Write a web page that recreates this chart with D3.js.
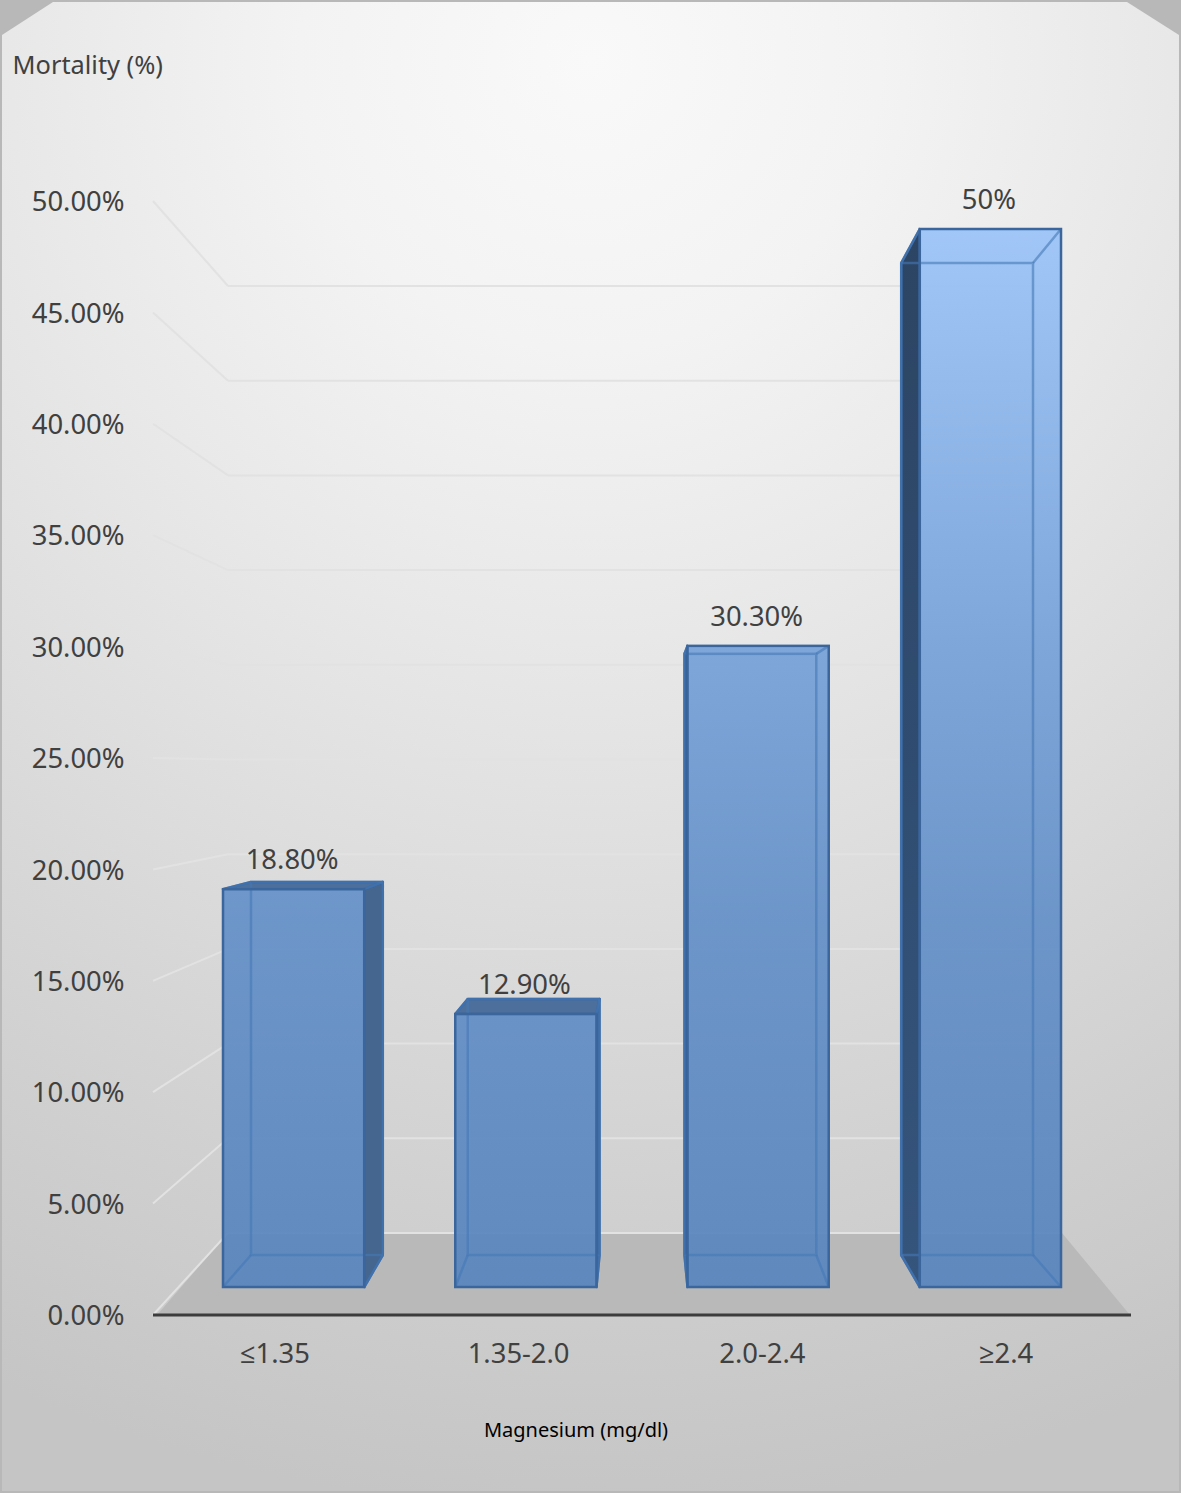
<!DOCTYPE html>
<html>
<head>
<meta charset="utf-8">
<script src="https://cdn.jsdelivr.net/npm/d3@7"></script>
<style>
	html, body { margin: 0; padding: 0; background: #b8b8b8; }
	svg { display: block; }
	text { font-family: "Noto Sans", "Open Sans", sans-serif; }
</style>
</head>
<body>
<div id="area"></div>
<script>
var categories = ["≤1.35", "1.35-2.0", "2.0-2.4", "≥2.4"];
var mortality = [18.8, 12.9, 30.3, 50];
var valueLabels = ["18.80%", "12.90%", "30.30%", "50%"];
var yTicks = [0, 5, 10, 15, 20, 25, 30, 35, 40, 45, 50];

var svgContainer = d3.select("#area").append("svg")
	.attr("width", 1181)
	.attr("height", 1493);

var defs = svgContainer.append("defs");

var panelGradient = defs.append("radialGradient")
	.attr("id", "panelFill")
	.attr("gradientUnits", "userSpaceOnUse")
	.attr("cx", 590).attr("cy", 60).attr("r", 1450);
panelGradient.selectAll("stop")
	.data([[0, "#f9f9f9"], [0.2, "#f3f3f3"], [0.4, "#e8e8e8"], [0.6, "#dcdcdc"], [0.8, "#d0d0d0"], [1, "#c5c5c5"]])
	.enter().append("stop")
	.attr("offset", function (d) { return d[0]; })
	.attr("stop-color", function (d) { return d[1]; });

var barGradient = defs.append("linearGradient")
	.attr("id", "barFill")
	.attr("gradientUnits", "userSpaceOnUse")
	.attr("x1", 0).attr("x2", 0).attr("y1", 229).attr("y2", 1287);
barGradient.selectAll("stop")
	.data([[0, "#9cc4f8"], [0.4, "#78a2d8"], [0.65, "#6691c8"], [1, "#5a86be"]])
	.enter().append("stop")
	.attr("offset", function (d) { return d[0]; })
	.attr("stop-color", function (d) { return d[1]; });

var darkGradient = defs.append("linearGradient")
	.attr("id", "darkFill")
	.attr("gradientUnits", "userSpaceOnUse")
	.attr("x1", 0).attr("x2", 0).attr("y1", 229).attr("y2", 1287);
darkGradient.selectAll("stop")
	.data([[0, "#2d4564"], [0.55, "#304d72"], [1, "#36557c"]])
	.enter().append("stop")
	.attr("offset", function (d) { return d[0]; })
	.attr("stop-color", function (d) { return d[1]; });

// y scales, one for each depth of the fake 3d box
var yAxisScale = d3.scaleLinear().domain([0, 50]).range([1315, 201]);
var yWall = d3.scaleLinear().domain([0, 50]).range([1233, 286]);
var yFront = d3.scaleLinear().domain([0, 50]).range([1287, 229]);
var yBack = d3.scaleLinear().domain([0, 50]).range([1255, 263]);

// x scales
var xAxisScale = d3.scaleBand().domain(categories).range([153, 1131]);
var xLabels = d3.scaleBand().domain(categories).range([153, 1128]);
var xFront = d3.scaleBand().domain(categories).range([223, 1061]).paddingInner(0.392);
var xBack = d3.scaleBand().domain(categories).range([251, 1033]).paddingInner(0.392);

// background panel with cut top corners
svgContainer.append("polygon")
	.attr("points", "2,35 53,2 1127,2 1179,35 1179,1491 2,1491")
	.attr("fill", "url(#panelFill)");

// floor
svgContainer.append("polygon")
	.attr("points", [[157, yAxisScale(0)], [228, yWall(0)], [1062, yWall(0)], [1130, yAxisScale(0)]].join(" "))
	.attr("fill", "#b9b9b9");

// gridlines, back wall and left side
var grid = svgContainer.append("g");
grid.selectAll("line.wall")
	.data(yTicks)
	.enter()
	.append("line")
	.attr("class", "wall")
	.attr("x1", 228)
	.attr("x2", 1062)
	.attr("y1", function (d) { return yWall(d); })
	.attr("y2", function (d) { return yWall(d); });
grid.selectAll("line.side")
	.data(yTicks)
	.enter()
	.append("line")
	.attr("class", "side")
	.attr("x1", 153)
	.attr("x2", 228)
	.attr("y1", function (d) { return yAxisScale(d); })
	.attr("y2", function (d) { return yWall(d); });
grid.selectAll("line")
	.attr("stroke", "#e2e2e2")
	.attr("stroke-width", 2);

// bars
var bars = svgContainer.selectAll("g.bar")
	.data(categories)
	.enter()
	.append("g")
	.attr("class", "bar");

function facePoints(cat, i, side) {
	var fl = xFront(cat), fr = fl + xFront.bandwidth();
	var bl = xBack(cat), br = bl + xBack.bandwidth();
	var v = mortality[i];
	if (side == "left") {
		return [[bl, yBack(v)], [fl, yFront(v)], [fl, yFront(0)], [bl, yBack(0)]];
	}
	if (side == "right") {
		return [[br, yBack(v)], [fr, yFront(v)], [fr, yFront(0)], [br, yBack(0)]];
	}
	return [[bl, yBack(v)], [br, yBack(v)], [fr, yFront(v)], [fl, yFront(v)]];
}

bars.each(function (cat, i) {
	var g = d3.select(this);
	var v = mortality[i];
	var showLeft = xBack(cat) < xFront(cat);
	var showRight = xBack(cat) + xBack.bandwidth() > xFront(cat) + xFront.bandwidth();
	var showTop = yBack(v) < yFront(v);

	["left", "right", "top"].forEach(function (side) {
		if ((side == "left" && showLeft) || (side == "right" && showRight) || (side == "top" && showTop)) {
			g.append("polygon")
				.attr("points", facePoints(cat, i, side).join(" "))
				.attr("fill", side == "left" ? "url(#darkFill)" : (side == "top" ? "#4d6f9b" : "#44668f"))
				.attr("stroke", "#3a669d")
				.attr("stroke-width", 2.5)
				.attr("stroke-linejoin", "round");
		}
	});

	// front face
	g.append("rect")
		.attr("x", xFront(cat))
		.attr("y", yFront(v))
		.attr("width", xFront.bandwidth())
		.attr("height", yFront(0) - yFront(v))
		.attr("fill", "url(#barFill)")
		.attr("fill-opacity", 0.94);

	// inner edges of the see-through box
	var inner = g.append("g")
		.attr("stroke", "#4478b6")
		.attr("stroke-opacity", 0.6)
		.attr("stroke-width", 2.5)
		.attr("fill", "none");
	inner.append("rect")
		.attr("x", xBack(cat))
		.attr("y", yBack(v))
		.attr("width", xBack.bandwidth())
		.attr("height", yBack(0) - yBack(v));
	var fl = xFront(cat), fr = fl + xFront.bandwidth();
	var bl = xBack(cat), br = bl + xBack.bandwidth();
	inner.selectAll("line.edge")
		.data([[bl, yBack(0), fl, yFront(0)], [br, yBack(0), fr, yFront(0)], [bl, yBack(v), fl, yFront(v)], [br, yBack(v), fr, yFront(v)]])
		.enter()
		.append("line")
		.attr("class", "edge")
		.attr("x1", function (d) { return d[0]; })
		.attr("y1", function (d) { return d[1]; })
		.attr("x2", function (d) { return d[2]; })
		.attr("y2", function (d) { return d[3]; });

	g.append("rect")
		.attr("x", xFront(cat))
		.attr("y", yFront(v))
		.attr("width", xFront.bandwidth())
		.attr("height", yFront(0) - yFront(v))
		.attr("fill", "none")
		.attr("stroke", "#3a669d")
		.attr("stroke-width", 2.5);

	g.append("text")
		.attr("x", fl + xFront.bandwidth() / 2 - 1.5)
		.attr("y", yFront(v) - 29.5)
		.attr("dy", "0.35em")
		.attr("text-anchor", "middle")
		.attr("font-size", 27.4)
		.attr("fill", "#404040")
		.text(valueLabels[i]);
});

// axes
var yAxis = d3.axisLeft(yAxisScale)
	.tickValues(yTicks)
	.tickSize(0)
	.tickPadding(29)
	.tickFormat(function (d) { return d.toFixed(2) + "%"; });
var yGroup = svgContainer.append("g")
	.attr("transform", "translate(153.5,1)")
	.call(yAxis);
yGroup.select(".domain").remove();
yGroup.selectAll("text")
	.attr("font-size", 27.4)
	.attr("fill", "#404040");

var xAxis = d3.axisBottom(xLabels).tickSize(0).tickPadding(29);
var xGroup = svgContainer.append("g")
	.attr("transform", "translate(0,1315)")
	.call(xAxis);
xGroup.select(".domain").remove();
xGroup.selectAll("text")
	.attr("font-size", 27.4)
	.attr("fill", "#404040");

// the axis line itself, slightly longer than the label band
svgContainer.append("line")
	.attr("x1", xAxisScale.range()[0])
	.attr("x2", xAxisScale.range()[1])
	.attr("y1", yAxisScale(0))
	.attr("y2", yAxisScale(0))
	.attr("stroke", "#3c3c3c")
	.attr("stroke-width", 3);

svgContainer.append("text")
	.attr("x", 12.5)
	.attr("y", 74)
	.attr("font-size", 25.4)
	.attr("fill", "#404040")
	.text("Mortality (%)");

svgContainer.append("text")
	.attr("x", 576)
	.attr("y", 1437)
	.attr("text-anchor", "middle")
	.attr("font-size", 20)
	.attr("fill", "#000000")
	.text("Magnesium (mg/dl)");
</script>
</body>
</html>
